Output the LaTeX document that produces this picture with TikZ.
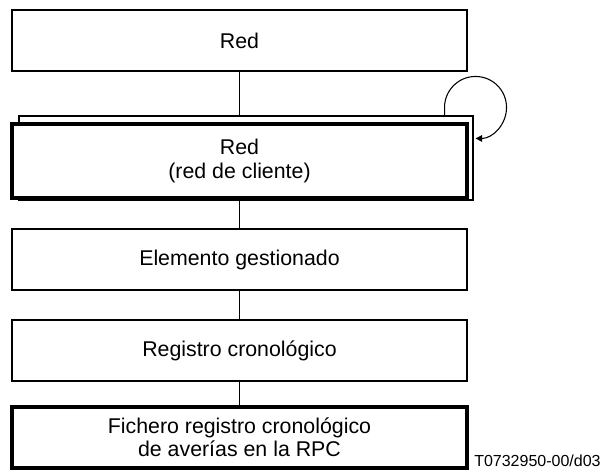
\documentclass[tikz,border=0pt]{standalone}
\usepackage{fontspec}
\setmainfont{Liberation Sans}
\usetikzlibrary{arrows.meta}
\begin{document}
\begin{tikzpicture}[x=0.75pt,y=0.75pt,
    box/.style={draw,line width=0.8pt,fill=white,minimum width=341.25pt,minimum height=45.75pt,
      align=center,inner sep=0pt,font=\fontsize{16}{17.5}\selectfont},
    thickbox/.style={box,line width=3pt}]
  \useasboundingbox (0,0) rectangle (600,473);

  %cajas
  \node[box] (red) at (239.5,432.5) {Red};
  \node[box,minimum width=340.5pt,minimum height=63pt] (fondo) at (246,315) {};
  \node[thickbox,minimum height=56pt] (cliente) at (239.5,312) {Red\\(red de cliente)};
  \node[box] (elemento) at (239.5,213.5) {Elemento gestionado};
  \node[box] (registro) at (239.5,122.5) {Registro cronológico};
  \node[thickbox] (fichero) at (239.5,35.5) {Fichero registro cronológico\\de averías en la RPC};

  %lineas verticales
  \draw[line width=0.8pt] (red.south) -- (fondo.north -| red.south);
  \draw[line width=0.8pt] (cliente.south) -- (elemento.north);
  \draw[line width=0.8pt] (elemento.south) -- (registro.north);
  \draw[line width=0.8pt] (registro.south) -- (fichero.north);

  %bucle
  \draw[line width=0.8pt,-{Triangle[length=5pt,width=5pt]}] ([xshift=-21.75pt]fondo.north east) -- ++(0,8)
    arc[start angle=180,end angle=-90,radius=23.25pt];

  \node[anchor=base west,inner sep=0pt,font=\fontsize{12}{14}\selectfont] (codigo) at (474,6) {T0732950-00/d03};
\end{tikzpicture}
\end{document}
